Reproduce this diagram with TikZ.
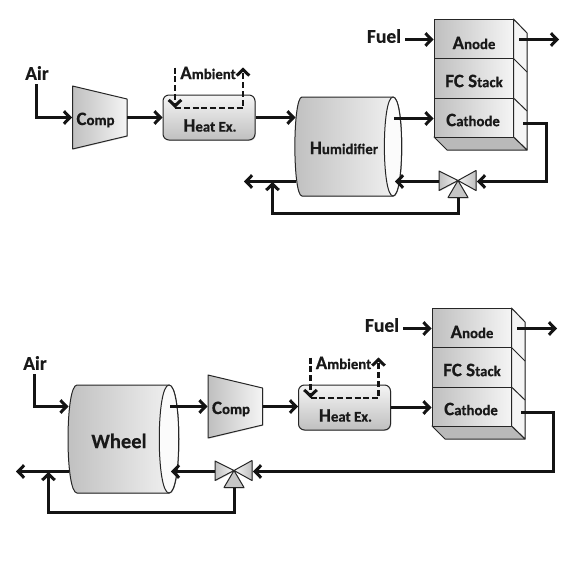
\documentclass[tikz,border=0pt]{standalone}
\usepackage{fontspec}
\setmainfont[BoldFeatures={FakeBold=0.4}]{Carlito}
\usetikzlibrary{arrows.meta,shadows,calc}
\definecolor{dk}{gray}{0.75}
\definecolor{lt}{gray}{0.96}
\newcommand{\capt}[2]{{\fontsize{19}{19}\selectfont #1}{\fontsize{14.8}{14.8}\selectfont #2}}
\tikzset{
  x=1pt,y=-1pt,
  flow/.style={line width=2.7pt,-{Straight Barb[length=6pt,width=12.5pt,line width=3pt]},black!92},
  dflow/.style={flow,dash pattern=on 6pt off 2.8pt},
  shp/.style={draw=black!85,line width=1pt,line join=round},
  shd/.style={drop shadow={opacity=.3,shadow xshift=.8pt,shadow yshift=-.8pt}},
  txt/.style={font=\bfseries,inner sep=0pt,text=black!90},
  big/.style={font=\bfseries\fontsize{19.5}{19.5}\selectfont,inner sep=0pt,text=black!90},
  hxbox/.style={shp,shd,rounded corners=6pt,top color=lt,bottom color=dk,minimum width=92pt,minimum height=45pt,inner sep=0pt},
}
\newcommand{\compblock}[3]{%
 \begin{scope}[shift={(#2,#3)}]
  \draw[shp,shd,left color=dk,right color=lt] (0,-31.5)--(54.5,-18.5)--(54.5,18.5)--(0,31.5)--cycle;
  \node[txt] (#1-t) at (23,2.5) {\capt{C}{omp}};
  \coordinate (#1-in) at (-.5,0);
  \coordinate (#1-out) at (54.5,0);
 \end{scope}}
\newcommand{\hxblock}[3]{%
 \begin{scope}[shift={(#2,#3)}]
  \node[hxbox] (#1) at (0,0) {};
  \node[txt] (#1-t) at (1,8) {\capt{H}{eat Ex.}};
  \node[txt] (#1-a) at (-1,-44.5) {\capt{A}{mbient}};
  \coordinate (#1-a1) at (-34,-50);
  \coordinate (#1-a2) at (-34,-9.5);
  \coordinate (#1-a3) at (34,-9.5);
  \coordinate (#1-a4) at (34,-50);
  \draw[dflow] (#1-a1)--(#1-a2);
  \draw[dflow] (#1-a2)--(#1-a3)--(#1-a4);
 \end{scope}}
\newcommand{\stackblock}[3]{%
 \begin{scope}[shift={(#2,#3)}]
  \draw[shp,shd,fill=lt] (79.5,0)--(93,14)--(93,131)--(79.5,118)--cycle;
  \draw[shp,fill=gray!55] (0,118)--(79.5,118)--(93,131)--(13,131)--cycle;
  \draw[shp,left color=dk,right color=lt] (0,0) rectangle (79.5,39.5);
  \draw[shp,left color=dk,right color=lt] (0,39.5) rectangle (79.5,79);
  \draw[shp,left color=dk,right color=lt] (0,79) rectangle (79.5,118);
  \draw[shp] (79.5,39.5)--(93,53) (79.5,79)--(93,92);
  \node[txt] (#1-an) at (40,24) {\capt{A}{node}};
  \node[txt] (#1-fc) at (40,62) {\capt{FC S}{tack}};
  \node[txt] (#1-ca) at (39,101) {\capt{C}{athode}};
  \coordinate (#1-ai) at (-.5,20.5);
  \coordinate (#1-ao) at (85,20.5);
  \coordinate (#1-ci) at (-.5,99.5);
  \coordinate (#1-co) at (89,104.5);
 \end{scope}}
\newcommand{\valveblock}[3]{%
 \begin{scope}[shift={(#2,#3)}]
  \draw[shp,shd,left color=dk,right color=lt] (-19,-9.5)--(0,0)--(-19,10)--cycle;
  \draw[shp,shd,left color=lt,right color=dk] (18,-10)--(0,0)--(18,10)--cycle;
  \draw[shp,shd,fill=gray!45] (0,0)--(-10,17)--(10,17)--cycle;
  \coordinate (#1-l) at (-19,1);
  \coordinate (#1-r) at (19,1);
  \coordinate (#1-b) at (.5,17);
 \end{scope}}
\begin{document}
\begin{tikzpicture}
\useasboundingbox (0,0) rectangle (573,573);
% ---------- top
\node[big] (tair) at (37,73) {Air};
\coordinate (tair0) at (36.5,84);
\coordinate (tbr) at (272.5,182);
\coordinate (tout) at (244,181.5);
\coordinate (tlow) at (272.5,213.5);
\draw[shp,shd,left color=dk,right color=lt] (302,97)--(393,97)
  .. controls (404.5,97) and (404.5,196) .. (393,196)--(302,196)
  .. controls (292.5,196) and (292.5,97) .. (302,97)--cycle;
\draw[shp,fill=white!97!gray] (393,97) .. controls (404.5,97) and (404.5,196) .. (393,196)
  .. controls (381.5,196) and (381.5,97) .. (393,97)--cycle;
\node[txt] (thum) at (344,148) {\capt{H}{umidifier}};
\coordinate (thi) at (295.5,117.5);
\coordinate (tho) at (394,118.5);
\coordinate (thl) at (296,181.5);
\coordinate (thr) at (395,181.5);
\compblock{tc}{72.5}{117.5}
\hxblock{thx}{209}{117.5}
\stackblock{ts}{434}{19}
\valveblock{tv}{458}{180.5}
\node[big] (tfuel) at (384,36) {Fuel};
\coordinate (tf0) at (405,39.5);
\coordinate (tae) at (559,39.5);
\coordinate (tcc) at (546.5,181.5);
\draw[flow] (tair0)|-(tc-in);
\draw[flow] (tc-out)--(thx.west);
\draw[flow] (thx.east)--(thi);
\draw[flow] (tho)--(ts-ci);
\draw[flow] (tf0)--(ts-ai);
\draw[flow] (ts-ao)--(tae);
\draw[flow] (ts-co)-|(tcc)--(tv-r);
\draw[flow] (tv-l)--(thr);
\draw[flow] (thl)--(tout);
\draw[flow] (tv-b)|-(tlow)--(tbr);
% ---------- bottom
\node[big] (bair) at (35,363) {Air};
\coordinate (bair0) at (34.5,374);
\coordinate (bbr) at (48.5,472);
\coordinate (bout) at (16,471.5);
\coordinate (blow) at (48.5,512.5);
\draw[shp,shd,left color=dk,right color=lt] (77,385)--(169,385)
  .. controls (182,385) and (182,493) .. (169,493)--(77,493)
  .. controls (65,493) and (65,385) .. (77,385)--cycle;
\draw[shp,fill=white!97!gray] (169,385) .. controls (182,385) and (182,493) .. (169,493)
  .. controls (156,493) and (156,385) .. (169,385)--cycle;
\node[txt,font=\bfseries\fontsize{20.5}{20.5}\selectfont] (bwh) at (119,441) {Wheel};
\coordinate (bwi) at (68.5,406.5);
\coordinate (bwo) at (170,406.5);
\coordinate (bwl) at (69,471.5);
\coordinate (bwr) at (171,471.5);
\compblock{bc}{208}{406.5}
\hxblock{bhx}{344.5}{407.5}
\stackblock{bs}{432}{308}
\valveblock{bv}{234}{470.5}
\node[big] (bfuel) at (382,325) {Fuel};
\coordinate (bf0) at (403,328.5);
\coordinate (bae) at (557,328.5);
\coordinate (bcc) at (553.5,471.5);
\draw[flow] (bair0)|-(bwi);
\draw[flow] (bwo)--(bc-in);
\draw[flow] (bc-out)--(bc-out-|bhx.west);
\draw[flow] (bhx.east)--(bs-ci);
\draw[flow] (bf0)--(bs-ai);
\draw[flow] (bs-ao)--(bae);
\draw[flow] (bs-co)-|(bcc)--(bv-r);
\draw[flow] (bv-l)--(bwr);
\draw[flow] (bwl)--(bout);
\draw[flow] (bv-b)|-(blow)--(bbr);
\end{tikzpicture}
\end{document}
